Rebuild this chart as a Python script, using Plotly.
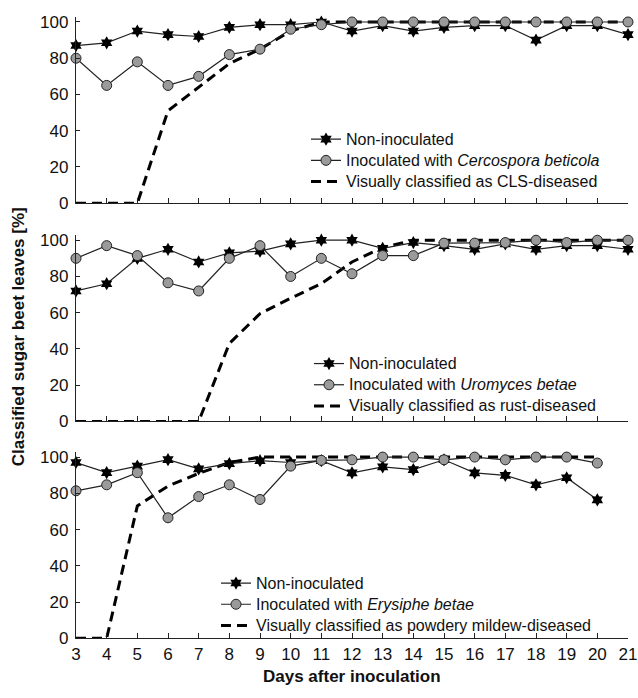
import plotly.graph_objects as go

days = list(range(3, 22))
days3 = list(range(3, 21))

p1_non = [87, 88.5, 95, 93, 92, 97, 98.5, 98.5, 100, 95, 98, 95, 97, 98, 98, 90, 98, 98, 93]
p1_ino = [80, 65, 78, 65, 70, 82, 85, 96, 98.5, 100, 100, 100, 100, 100, 100, 100, 100, 100, 100]
p1_vis = [0, 0, 0, 51, 64, 77, 85, 95, 100, 100, 100, 100, 100, 100, 100, 100, 100, 100, 100]

p2_non = [72, 76, 90, 95, 88, 93, 94, 98, 100, 100, 95.5, 98.7, 97, 95, 98, 95, 97, 97, 95]
p2_ino = [90, 97, 91.5, 76.5, 72, 90, 97, 80, 90, 81.5, 91.5, 91.5, 98.4, 98.4, 98.7, 100, 98.7, 100, 100]
p2_vis = [0, 0, 0, 0, 0, 43, 59.5, 68, 76, 88, 96, 100, 100, 100, 100, 100, 100, 100, 100]

p3_non = [97, 91.4, 95, 98.6, 93.5, 96.4, 98, 97, 98, 91.3, 94.6, 93.1, 98.5, 91.3, 89.9, 84.7, 88.6, 76.4]
p3_ino = [81.4, 84.7, 91.4, 66.5, 78.2, 84.7, 76.6, 95, 98.2, 98.5, 100, 100, 98.5, 100, 98.5, 100, 100, 96.7]
p3_vis = [0, 0, 73, 84, 91, 97, 100, 100, 100, 100, 100, 100, 100, 100, 100, 100, 100, 100]

names_ino = ["Inoculated with <i>Cercospora beticola</i>",
             "Inoculated with <i>Uromyces betae</i>",
             "Inoculated with <i>Erysiphe betae</i>"]
names_vis = ["Visually classified as CLS-diseased",
             "Visually classified as rust-diseased",
             "Visually classified as powdery mildew-diseased"]

FONT = "Liberation Sans, Arial, sans-serif"
LINE = "#222222"

def big(s):
    return '<span style="font-size:16px">' + s + '</span>'

fig = go.Figure()

panels = [(days, p1_non, p1_ino, p1_vis), (days, p2_non, p2_ino, p2_vis), (days3, p3_non, p3_ino, p3_vis)]
for i, (d, non, ino, vis) in enumerate(panels):
    ax = "" if i == 0 else str(i + 1)
    lg = "legend" if i == 0 else f"legend{i + 1}"
    fig.add_trace(go.Scatter(x=d, y=vis, mode="lines", name=big(names_vis[i]),
                             line=dict(color="black", width=3, dash="10px,6px"),
                             xaxis="x" + ax, yaxis="y" + ax, legend=lg, legendrank=3, cliponaxis=False))
    fig.add_trace(go.Scatter(x=d, y=non, mode="lines+markers", name=big("Non-inoculated"),
                             line=dict(color=LINE, width=1.2),
                             marker=dict(symbol="hexagram", size=10, color="black", line=dict(width=0)),
                             xaxis="x" + ax, yaxis="y" + ax, legend=lg, legendrank=1, cliponaxis=False))
    fig.add_trace(go.Scatter(x=d, y=ino, mode="lines+markers", name=big(names_ino[i]),
                             line=dict(color=LINE, width=1.2),
                             marker=dict(symbol="circle", size=10, color="#9a9a9a", line=dict(width=1, color="#222")),
                             xaxis="x" + ax, yaxis="y" + ax, legend=lg, legendrank=2, cliponaxis=False))

H = 698.0
def frac(py):
    return 1 - py / H

domains = [(frac(203.3), frac(12.8)), (frac(426.0), frac(235.5)), (frac(647.3), frac(456.8))]

layout = dict(
    width=638, height=698,
    margin=dict(l=76, r=10, t=0, b=0),
    paper_bgcolor="white", plot_bgcolor="white",
    font=dict(family=FONT, size=16, color="#111"),
    showlegend=True,
)
for i, dom in enumerate(domains):
    ax = "" if i == 0 else str(i + 1)
    layout["xaxis" + ax] = dict(
        domain=[0, 1], range=[3, 21], anchor="y" + ax, tickmode="linear", tick0=3, dtick=1,
        showticklabels=(i == 2), ticks="inside", ticklen=5, tickcolor="#222", tickwidth=1,
        showline=True, linecolor="#222", linewidth=1.3, showgrid=False, zeroline=False,
        tickfont=dict(size=17, family=FONT, color="#111"),
    )
    layout["yaxis" + ax] = dict(
        domain=list(dom), range=[0, 103], anchor="x" + ax, tickmode="array",
        tickvals=[0, 20, 40, 60, 80, 100], ticks="inside", ticklen=4, tickcolor="#222", tickwidth=1,
        showline=True, linecolor="#222",
        linewidth=1.3, showgrid=False, zeroline=False, ticklabelstandoff=3,
        tickfont=dict(size=17, family=FONT, color="#111"),
    )

leg_common = dict(bgcolor="rgba(0,0,0,0)", borderwidth=0, font=dict(size=14, family=FONT, color="#111"),
                  xanchor="left", yanchor="top", itemwidth=30, tracegroupgap=0)
layout["legend"] = dict(leg_common, x=(306 - 76) / 552, y=frac(122))
layout["legend2"] = dict(leg_common, x=(309 - 76) / 552, y=frac(351))
layout["legend3"] = dict(leg_common, x=(216 - 76) / 552, y=frac(575))

fig.update_layout(**layout)

fig.add_annotation(text="<b>Classified sugar beet leaves [%]</b>", xref="paper", yref="paper",
                   x=(18 - 76) / 552, y=frac(340), textangle=-90, showarrow=False,
                   font=dict(size=17, family=FONT, color="#111"), xanchor="center", yanchor="middle")
fig.add_annotation(text="<b>Days after inoculation</b>", xref="paper", yref="paper",
                   x=(352 - 76) / 552, y=frac(686), showarrow=False,
                   font=dict(size=17, family=FONT, color="#111"), xanchor="center", yanchor="middle")

fig.write_html("out.html", config={"displayModeBar": False},
               post_script="document.body.style.margin='0px';")
